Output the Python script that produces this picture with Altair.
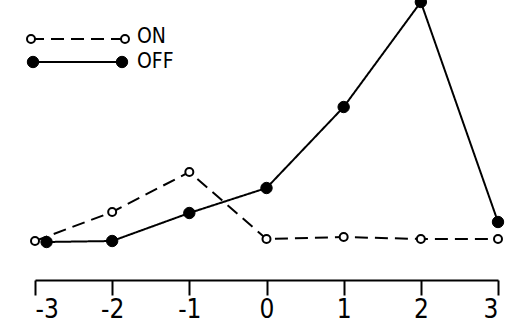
import altair as alt
import pandas as pd

# data values (arbitrary units, baseline ~0)
on_x = [-3, -2, -1, 0, 1, 2, 3]
on_y = [-1, 28, 68, 1, 3, 1, 1]
off_x = [-2.85, -2, -1, 0, 1, 2, 3]
off_y = [-2, -1, 27, 52, 133, 238, 18]
x_ticks = [-3, -2, -1, 0, 1, 2, 3]
series_names = ["ON", "OFF"]

df = pd.DataFrame(
    {"series": ["ON"] * len(on_x) + ["OFF"] * len(off_x),
     "x": on_x + off_x,
     "y": on_y + off_y,
     "order": list(range(len(on_x))) + list(range(len(off_x)))}
)

FONT = "DejaVu Sans Condensed, DejaVu Sans, sans-serif"
LEFT = 35  # left padding; legend pixel values are relative to the plot area

xs = alt.Scale(domain=[-3, 3], nice=False, zero=False)
ys = alt.Scale(domain=[-40, 240], nice=False, zero=False)

X = alt.X("x:Q", scale=xs,
          axis=alt.Axis(values=x_ticks, title=None, grid=False,
                        domainColor="black", domainWidth=2,
                        tickColor="black", tickWidth=2, tickSize=15,
                        labelFont=FONT, labelFontSize=26, labelColor="black",
                        labelPadding=1,
                        labelExpr="toString(datum.value)"))
Y = alt.Y("y:Q", scale=ys, axis=None)

base = alt.Chart(df)

lines = base.mark_line(color="black", strokeWidth=2).encode(
    x=X, y=Y, order="order:Q",
    strokeDash=alt.StrokeDash("series:N",
                              scale=alt.Scale(domain=series_names, range=[[13, 7], [1, 0]]),
                              legend=None),
)

on_pts = base.transform_filter(alt.datum.series == "ON").mark_point(
    shape="circle", filled=True, fill="white", stroke="black", strokeWidth=2, size=64, opacity=1
).encode(x=X, y=Y)

off_pts = base.transform_filter(alt.datum.series == "OFF").mark_point(
    shape="circle", filled=True, fill="black", stroke="black", strokeWidth=1, size=130, opacity=1
).encode(x=X, y=Y)

# hand-drawn style legend
leg = pd.DataFrame({"label": series_names})
legbase = alt.Chart(leg)
on_row = legbase.transform_filter(alt.datum.label == "ON")
off_row = legbase.transform_filter(alt.datum.label == "OFF")

legend_layers = [
    on_row.mark_rule(color="black", strokeWidth=2, strokeDash=[13, 7]).encode(
        x=alt.value(31 - LEFT), x2=alt.value(125 - LEFT), y=alt.value(39)),
    on_row.mark_point(shape="circle", filled=True, fill="white", stroke="black",
                      strokeWidth=2, size=64, opacity=1).encode(x=alt.value(31 - LEFT), y=alt.value(39)),
    on_row.mark_point(shape="circle", filled=True, fill="white", stroke="black",
                      strokeWidth=2, size=64, opacity=1).encode(x=alt.value(125 - LEFT), y=alt.value(39)),
    on_row.mark_text(align="left", baseline="middle", font=FONT, fontSize=21, color="black").encode(
        x=alt.value(137 - LEFT), y=alt.value(37), text="label:N"),
    off_row.mark_rule(color="black", strokeWidth=2).encode(
        x=alt.value(33 - LEFT), x2=alt.value(122 - LEFT), y=alt.value(62)),
    off_row.mark_point(shape="circle", filled=True, fill="black", stroke="black",
                       strokeWidth=1, size=130, opacity=1).encode(x=alt.value(33 - LEFT), y=alt.value(62)),
    off_row.mark_point(shape="circle", filled=True, fill="black", stroke="black",
                       strokeWidth=1, size=130, opacity=1).encode(x=alt.value(122 - LEFT), y=alt.value(62)),
    off_row.mark_text(align="left", baseline="middle", font=FONT, fontSize=21, color="black").encode(
        x=alt.value(137 - LEFT), y=alt.value(62), text="label:N"),
]

chart = alt.layer(lines, on_pts, off_pts, *legend_layers).properties(
    width=463, height=280,
    autosize=alt.AutoSizeParams(type="none"),
    padding={"left": LEFT, "right": 13, "top": 0, "bottom": 45},
    background="white",
).configure_view(stroke=None)

chart.save("out.html", embed_options={"renderer": "svg", "actions": False})
